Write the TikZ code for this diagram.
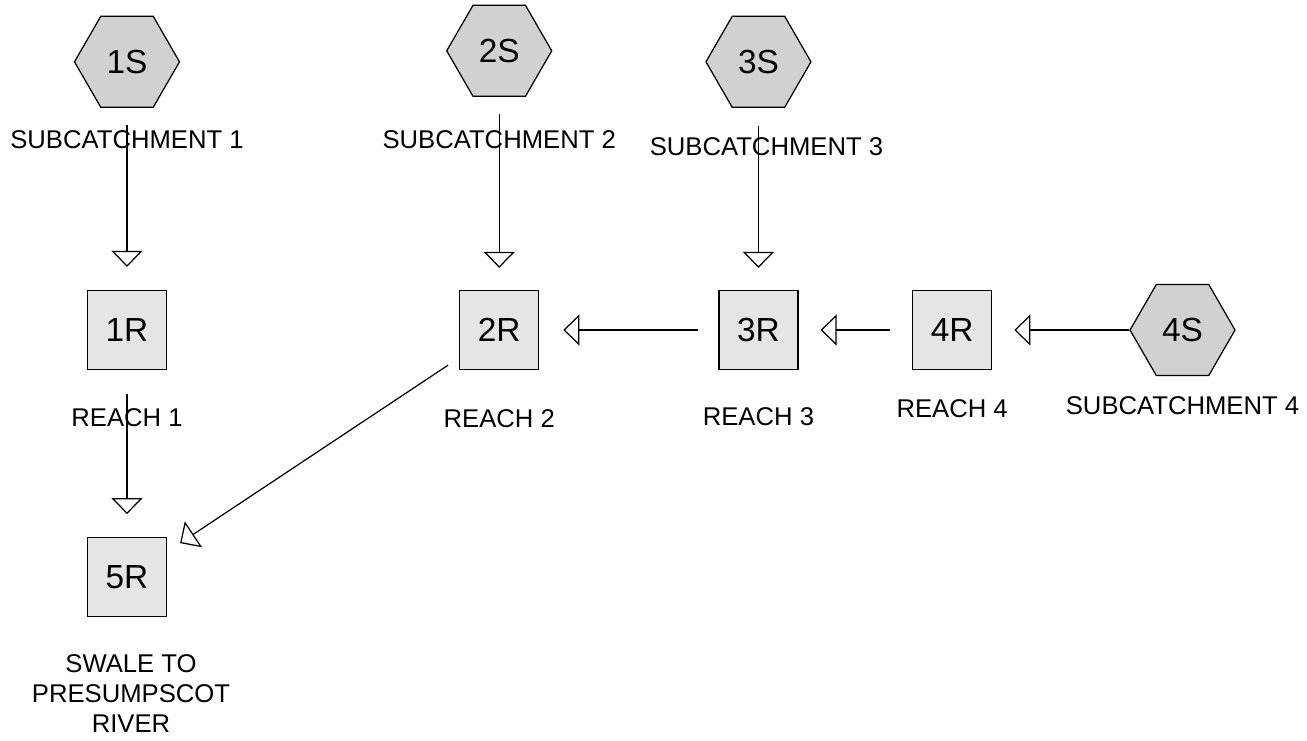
\documentclass[tikz,border=0pt]{standalone}
\usepackage{fontspec}
\setmainfont{Liberation Sans}
\usepackage{tikz}
\usetikzlibrary{shapes.geometric}
\usetikzlibrary{arrows.meta}
\usetikzlibrary{positioning}

\newcommand{\biglab}{\fontsize{19}{22}\selectfont}
\newcommand{\smalllab}{\fontsize{14.6}{17}\selectfont}

\tikzset{
  sub/.style={regular polygon, regular polygon sides=6, draw, line width=0.7pt, fill=black!18, minimum size=2.1cm, inner sep=0pt, font=\biglab},
  reach/.style={rectangle, draw, line width=0.7pt, fill=black!10, minimum size=1.58cm, inner sep=0pt, font=\biglab},
  lab/.style={inner sep=0pt, font=\smalllab},
  flow/.style={draw, line width=0.7pt, -{Triangle[open, fill=white, length=0.32cm, width=0.62cm]}}
}

\begin{document}
\begin{tikzpicture}
        \useasboundingbox (0,0) rectangle (26.14,-14.8);
        \node[reach] (r1) at (2.54,-6.60) {1R};
        \node[reach, below=3.34cm of r1] (r5) {5R};
        \node[reach, right=5.84cm of r1] (r2) {2R};
        \node[reach, right=3.58cm of r2] (r3) {3R};
        \node[reach, right=2.27cm of r3] (r4) {4R};
        \node[sub, right=2.74cm of r4] (s4) {4S};

        \node[sub, above=3.64cm of r1] (s1) {1S};
        \node[sub, above=3.86cm of r2] (s2) {2S};
        \node[sub, above=3.64cm of r3] (s3) {3S};

        % labels under the nodes
        \node[lab, below=0.44cm of s1] (sub1) {SUBCATCHMENT 1};
        \node[lab, below=0.66cm of s2] (sub2) {SUBCATCHMENT 2};
        \node[lab, below=0.58cm of s3, xshift=0.16cm] (sub3) {SUBCATCHMENT 3};
        \node[lab, below=0.40cm of s4] (sub4) {SUBCATCHMENT 4};
        \node[lab, below=0.76cm of r1] (reach1) {REACH 1};
        \node[lab, below=0.78cm of r2] (reach2) {REACH 2};
        \node[lab, below=0.74cm of r3] (reach3) {REACH 3};
        \node[lab, below=0.58cm of r4] (reach4) {REACH 4};
        \node[lab, align=center, below=0.74cm of r5, xshift=0.08cm] (swale) {SWALE TO\\PRESUMPSCOT\\RIVER};

        \draw[flow] ([yshift=-0.34cm]s1.south) -- ([yshift=0.46cm]r1.north);
        \draw[flow] ([yshift=-0.34cm]s2.south) -- ([yshift=0.44cm]r2.north);
        \draw[flow] ([yshift=-0.36cm]s3.south) -- ([yshift=0.44cm]r3.north);
        \draw[flow] (s4.west) -- ([xshift=0.44cm]r4.east);
        \draw[flow] ([xshift=-0.44cm]r4.west) -- ([xshift=0.44cm]r3.east);
        \draw[flow] ([xshift=-0.4cm]r3.west) -- ([xshift=0.48cm]r2.east);
        \draw[flow] ([yshift=-0.48cm]r1.south) -- ([yshift=0.46cm]r5.north);
        \draw[flow] ([shift={(-0.22cm,0.1cm)}]r2.south west) -- ([shift={(0.26cm,-0.12cm)}]r5.north east);
\end{tikzpicture}
\end{document}
